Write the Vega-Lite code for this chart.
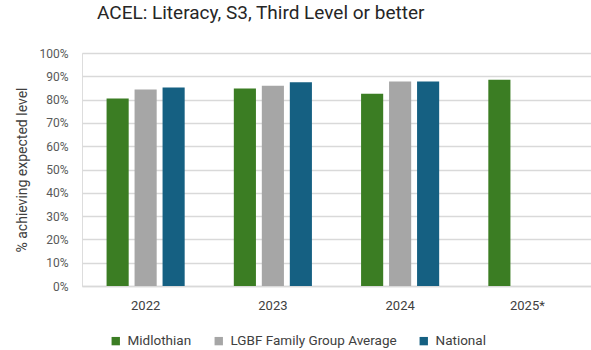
{
  "$schema": "https://vega.github.io/schema/vega-lite/v6.json",
  "width": 509,
  "height": 233,
  "autosize": {"type": "none"},
  "padding": {"left": 82, "top": 53, "right": 0, "bottom": 64},
  "background": "white",
  "title": {
    "text": "ACEL: Literacy, S3, Third Level or better",
    "anchor": "start",
    "frame": "group",
    "dx": 15,
    "offset": 24,
    "fontSize": 19,
    "font": "Roboto",
    "fontWeight": "normal",
    "color": "#262626"
  },
  "data": {
    "values": [
      {"year": "2022", "series": "Midlothian", "value": 80.5},
      {"year": "2022", "series": "LGBF Family Group Average", "value": 84.3},
      {"year": "2022", "series": "National", "value": 85.2},
      {"year": "2023", "series": "Midlothian", "value": 84.8},
      {"year": "2023", "series": "LGBF Family Group Average", "value": 85.9},
      {"year": "2023", "series": "National", "value": 87.4},
      {"year": "2024", "series": "Midlothian", "value": 82.5},
      {"year": "2024", "series": "LGBF Family Group Average", "value": 87.8},
      {"year": "2024", "series": "National", "value": 87.8},
      {"year": "2025*", "series": "Midlothian", "value": 88.5}
    ]
  },
  "mark": {"type": "bar"},
  "encoding": {
    "x": {
      "field": "year",
      "type": "nominal",
      "sort": null,
      "scale": {"paddingInner": 0.34, "paddingOuter": 0.17},
      "axis": {
        "title": null,
        "labelAngle": 0,
        "labelFontSize": 13,
        "labelColor": "#404040",
        "labelFont": "Roboto",
        "labelPadding": 13,
        "ticks": false,
        "domain": true,
        "domainColor": "#d9d9d9",
        "domainWidth": 1.5
      }
    },
    "xOffset": {
      "field": "series",
      "type": "nominal",
      "sort": ["Midlothian", "LGBF Family Group Average", "National"],
      "scale": {"domain": ["Midlothian", "LGBF Family Group Average", "National"], "paddingInner": 0.21, "paddingOuter": 0.105}
    },
    "y": {
      "field": "value",
      "type": "quantitative",
      "scale": {"domain": [0, 100], "nice": false},
      "axis": {
        "title": "% achieving expected level",
        "titleFontSize": 14,
        "titleFont": "Roboto",
        "titleFontWeight": "normal",
        "titleColor": "#404040",
        "titlePadding": 9,
        "values": [0, 10, 20, 30, 40, 50, 60, 70, 80, 90, 100],
        "labelExpr": "datum.value + '%'",
        "labelFontSize": 12,
        "labelFont": "Roboto",
        "labelColor": "#595959",
        "labelPadding": 14,
        "ticks": false,
        "domain": false,
        "gridColor": "#d9d9d9",
        "gridWidth": 1.5
      }
    },
    "color": {
      "field": "series",
      "type": "nominal",
      "scale": {
        "domain": ["Midlothian", "LGBF Family Group Average", "National"],
        "range": ["#3B7D23", "#A6A6A6", "#156082"]
      },
      "legend": {
        "title": null,
        "orient": "none",
        "direction": "horizontal",
        "legendX": 27,
        "legendY": 281,
        "symbolType": "square",
        "symbolSize": 70,
        "labelFontSize": 13.5,
        "labelFont": "Roboto",
        "labelColor": "#404040",
        "labelOffset": 5,
        "labelLimit": 400,
        "columnPadding": 20
      }
    }
  }
}
